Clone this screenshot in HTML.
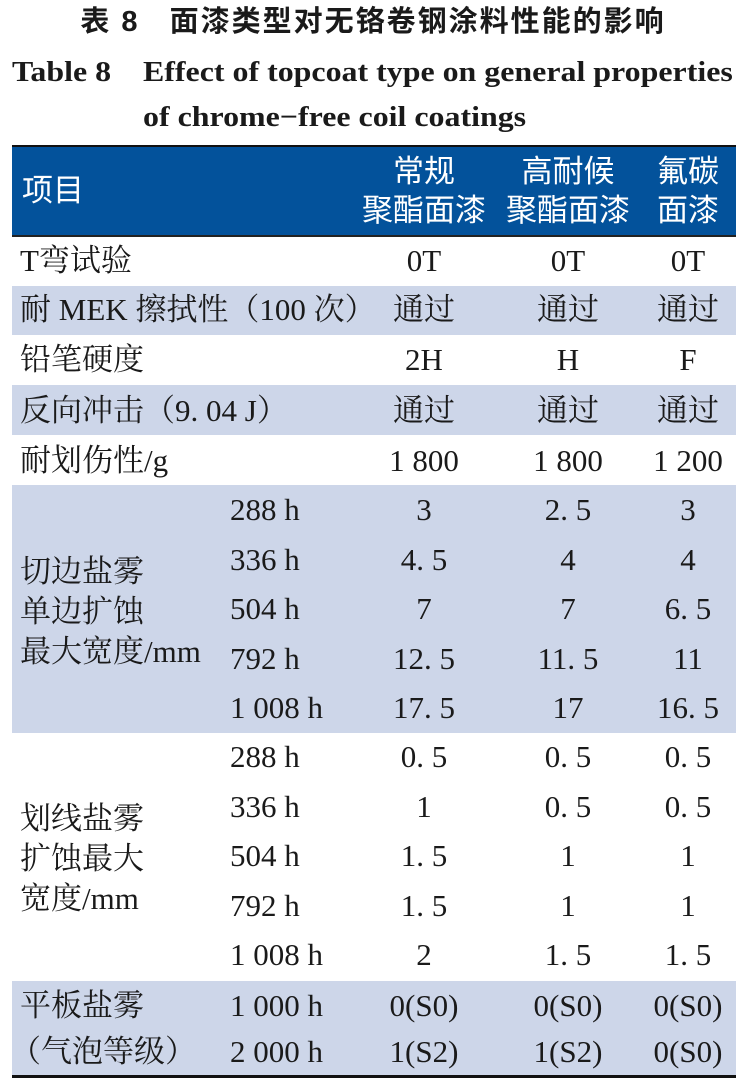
<!DOCTYPE html>
<html><head><meta charset="utf-8"><style>
body{margin:0;width:746px;height:1088px;background:#fff;position:relative;overflow:hidden;font-family:"Liberation Serif","Noto Serif CJK SC",serif;color:#1a1a1a}
.a{position:absolute;white-space:nowrap}
.t{font-size:31px;line-height:32px}
.c{transform:translateX(-50%)}
.band{position:absolute;left:12px;width:724px;background:#cdd6e9}
.h{color:#fff;font-family:"Liberation Sans","Noto Sans CJK SC",sans-serif;font-size:31px;line-height:34px}
.e{font-weight:bold;font-size:28px;line-height:32px;transform-origin:left center;transform:scaleX(1.14)}
</style></head><body>
<div class="a" style="left:0;width:746px;top:5px;text-align:center;font-family:'Liberation Sans','Noto Sans CJK SC',sans-serif;font-weight:bold;font-size:29px;line-height:34px;letter-spacing:2px">表 8&nbsp;&nbsp;&nbsp;面漆类型对无铬卷钢涂料性能的影响</div>
<div class="a e" style="left:12px;top:57px">Table 8</div>
<div class="a e" style="left:143px;top:57px">Effect of topcoat type on general properties</div>
<div class="a e" style="left:143px;top:102px">of chrome−free coil coatings</div>
<div class="a" style="left:12px;top:145px;width:724px;height:2px;background:#111"></div>
<div class="a" style="left:12px;top:147px;width:724px;height:88px;background:#03529b"></div>
<div class="a" style="left:12px;top:235px;width:724px;height:2px;background:#222"></div>
<div class="a h" style="left:22px;top:174px">项目</div>
<div class="a h c" style="left:424px;top:155px">常规</div>
<div class="a h c" style="left:424px;top:194px">聚酯面漆</div>
<div class="a h c" style="left:568px;top:155px">高耐候</div>
<div class="a h c" style="left:568px;top:194px">聚酯面漆</div>
<div class="a h c" style="left:688px;top:155px">氟碳</div>
<div class="a h c" style="left:688px;top:194px">面漆</div>
<div class="band" style="top:286px;height:49px"></div>
<div class="band" style="top:385px;height:50px"></div>
<div class="band" style="top:485px;height:248px"></div>
<div class="band" style="top:981px;height:94px"></div>
<div class="a" style="left:12px;top:1075px;width:724px;height:3px;background:#111"></div>

<div class="a t" style="left:20px;top:245px">T弯试验</div>
<div class="a t c" style="left:424px;top:245px">0T</div><div class="a t c" style="left:568px;top:245px">0T</div><div class="a t c" style="left:688px;top:245px">0T</div>
<div class="a t" style="left:20px;top:294px">耐 MEK 擦拭性（100 次）</div>
<div class="a t c" style="left:424px;top:294px">通过</div><div class="a t c" style="left:568px;top:294px">通过</div><div class="a t c" style="left:688px;top:294px">通过</div>
<div class="a t" style="left:20px;top:344px">铅笔硬度</div>
<div class="a t c" style="left:424px;top:344px">2H</div><div class="a t c" style="left:568px;top:344px">H</div><div class="a t c" style="left:688px;top:344px">F</div>
<div class="a t" style="left:20px;top:395px">反向冲击（9. 04 J）</div>
<div class="a t c" style="left:424px;top:395px">通过</div><div class="a t c" style="left:568px;top:395px">通过</div><div class="a t c" style="left:688px;top:395px">通过</div>
<div class="a t" style="left:20px;top:445px">耐划伤性/g</div>
<div class="a t c" style="left:424px;top:445px">1 800</div><div class="a t c" style="left:568px;top:445px">1 800</div><div class="a t c" style="left:688px;top:445px">1 200</div>

<div class="a t" style="left:20px;top:552px;line-height:40px">切边盐雾<br>单边扩蚀<br>最大宽度/mm</div>
<div class="a t" style="left:230px;top:494px">288 h</div><div class="a t c" style="left:424px;top:494px">3</div><div class="a t c" style="left:568px;top:494px">2. 5</div><div class="a t c" style="left:688px;top:494px">3</div>
<div class="a t" style="left:230px;top:544px">336 h</div><div class="a t c" style="left:424px;top:544px">4. 5</div><div class="a t c" style="left:568px;top:544px">4</div><div class="a t c" style="left:688px;top:544px">4</div>
<div class="a t" style="left:230px;top:593px">504 h</div><div class="a t c" style="left:424px;top:593px">7</div><div class="a t c" style="left:568px;top:593px">7</div><div class="a t c" style="left:688px;top:593px">6. 5</div>
<div class="a t" style="left:230px;top:643px">792 h</div><div class="a t c" style="left:424px;top:643px">12. 5</div><div class="a t c" style="left:568px;top:643px">11. 5</div><div class="a t c" style="left:688px;top:643px">11</div>
<div class="a t" style="left:230px;top:692px">1 008 h</div><div class="a t c" style="left:424px;top:692px">17. 5</div><div class="a t c" style="left:568px;top:692px">17</div><div class="a t c" style="left:688px;top:692px">16. 5</div>

<div class="a t" style="left:20px;top:799px;line-height:40px">划线盐雾<br>扩蚀最大<br>宽度/mm</div>
<div class="a t" style="left:230px;top:741px">288 h</div><div class="a t c" style="left:424px;top:741px">0. 5</div><div class="a t c" style="left:568px;top:741px">0. 5</div><div class="a t c" style="left:688px;top:741px">0. 5</div>
<div class="a t" style="left:230px;top:791px">336 h</div><div class="a t c" style="left:424px;top:791px">1</div><div class="a t c" style="left:568px;top:791px">0. 5</div><div class="a t c" style="left:688px;top:791px">0. 5</div>
<div class="a t" style="left:230px;top:840px">504 h</div><div class="a t c" style="left:424px;top:840px">1. 5</div><div class="a t c" style="left:568px;top:840px">1</div><div class="a t c" style="left:688px;top:840px">1</div>
<div class="a t" style="left:230px;top:890px">792 h</div><div class="a t c" style="left:424px;top:890px">1. 5</div><div class="a t c" style="left:568px;top:890px">1</div><div class="a t c" style="left:688px;top:890px">1</div>
<div class="a t" style="left:230px;top:939px">1 008 h</div><div class="a t c" style="left:424px;top:939px">2</div><div class="a t c" style="left:568px;top:939px">1. 5</div><div class="a t c" style="left:688px;top:939px">1. 5</div>

<div class="a t" style="left:20px;top:990px">平板盐雾</div>
<div class="a t" style="left:10px;top:1036px">（气泡等级）</div>
<div class="a t" style="left:230px;top:990px">1 000 h</div><div class="a t c" style="left:424px;top:990px">0(S0)</div><div class="a t c" style="left:568px;top:990px">0(S0)</div><div class="a t c" style="left:688px;top:990px">0(S0)</div>
<div class="a t" style="left:230px;top:1036px">2 000 h</div><div class="a t c" style="left:424px;top:1036px">1(S2)</div><div class="a t c" style="left:568px;top:1036px">1(S2)</div><div class="a t c" style="left:688px;top:1036px">0(S0)</div>
</body></html>
